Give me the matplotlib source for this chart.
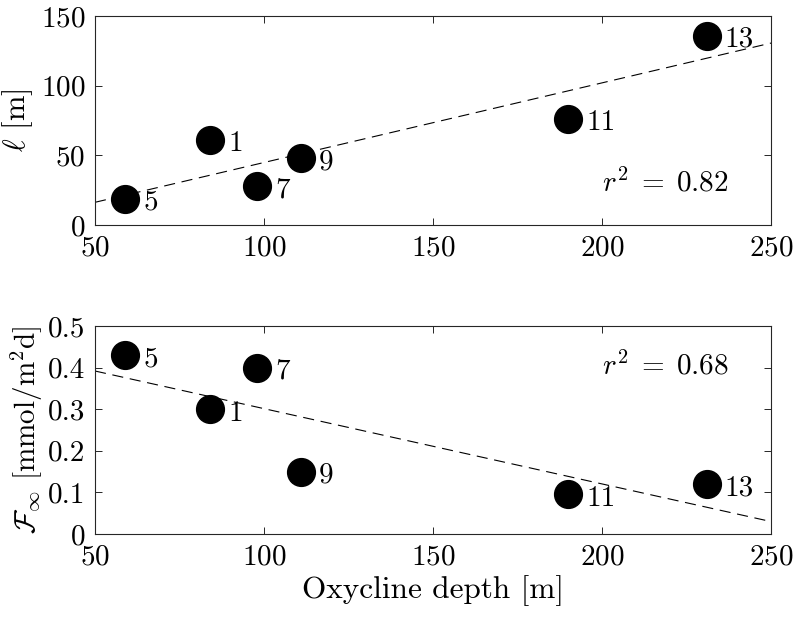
import numpy as np
import matplotlib
matplotlib.use('Agg')
import matplotlib.pyplot as plt

plt.rcParams['font.family'] = 'serif'
plt.rcParams['font.serif'] = ['cmr10']
plt.rcParams['mathtext.fontset'] = 'cm'
plt.rcParams['axes.formatter.use_mathtext'] = True
plt.rcParams['font.size'] = 21

# station data
stations = ['1', '5', '7', '9', '11', '13']
oxycline = [84, 59, 98, 111, 190, 231]
ell = [61, 19, 28, 48, 76, 136]
flux = [0.30, 0.43, 0.40, 0.15, 0.095, 0.12]
r2_vals = ['0.82', '0.68']

fig = plt.figure(figsize=(7.93, 6.17), dpi=100)
ax1 = fig.add_axes([95/793, 1 - 225/617, 676/793, 209/617])
ax2 = fig.add_axes([95/793, 1 - 534/617, 676/793, 208/617])

xfit = np.array([50, 250])
edge = '#262626'

for ax, y, r2, ty in [(ax1, ell, r2_vals[0], 0.20), (ax2, flux, r2_vals[1], 0.81)]:
    # least squares fit line
    p = np.polyfit(oxycline, y, 1)
    ax.plot(xfit, np.polyval(p, xfit), color='k', lw=0.8, dashes=(10, 6))
    ax.plot(oxycline, y, 'o', color='k', ms=20, ls='none')
    for s, xx, yy in zip(stations, oxycline, y):
        ax.annotate(s, (xx, yy), xytext=(13, -3), textcoords='offset points',
                    va='center', ha='left')
    ax.text(0.75, ty, r'$r^2\;=\;%s$' % r2, transform=ax.transAxes,
            ha='left', va='center')
    ax.set_xlim(50, 250)
    ax.set_xticks([50, 100, 150, 200, 250])
    ax.tick_params(direction='in', top=True, right=True, length=5,
                   color=edge, width=0.7, pad=7)
    for sp in ax.spines.values():
        sp.set_color(edge)
        sp.set_linewidth(0.8)

ax1.set_ylim(0, 150)
ax1.set_yticks([0, 50, 100, 150])
ax1.set_ylabel(r'$\ell$ [m]', fontsize=22)

ax2.set_ylim(0, 0.5)
ax2.set_yticks([0, 0.1, 0.2, 0.3, 0.4, 0.5])
ax2.set_yticklabels(['0', '0.1', '0.2', '0.3', '0.4', '0.5'])
ax2.set_ylabel(r'$\mathcal{F}_\infty$ [mmol/m$^2$d]', labelpad=2)
ax2.set_xlabel('Oxycline depth [m]', fontsize=22.5, labelpad=4)

fig.savefig('out.png', dpi=100)
